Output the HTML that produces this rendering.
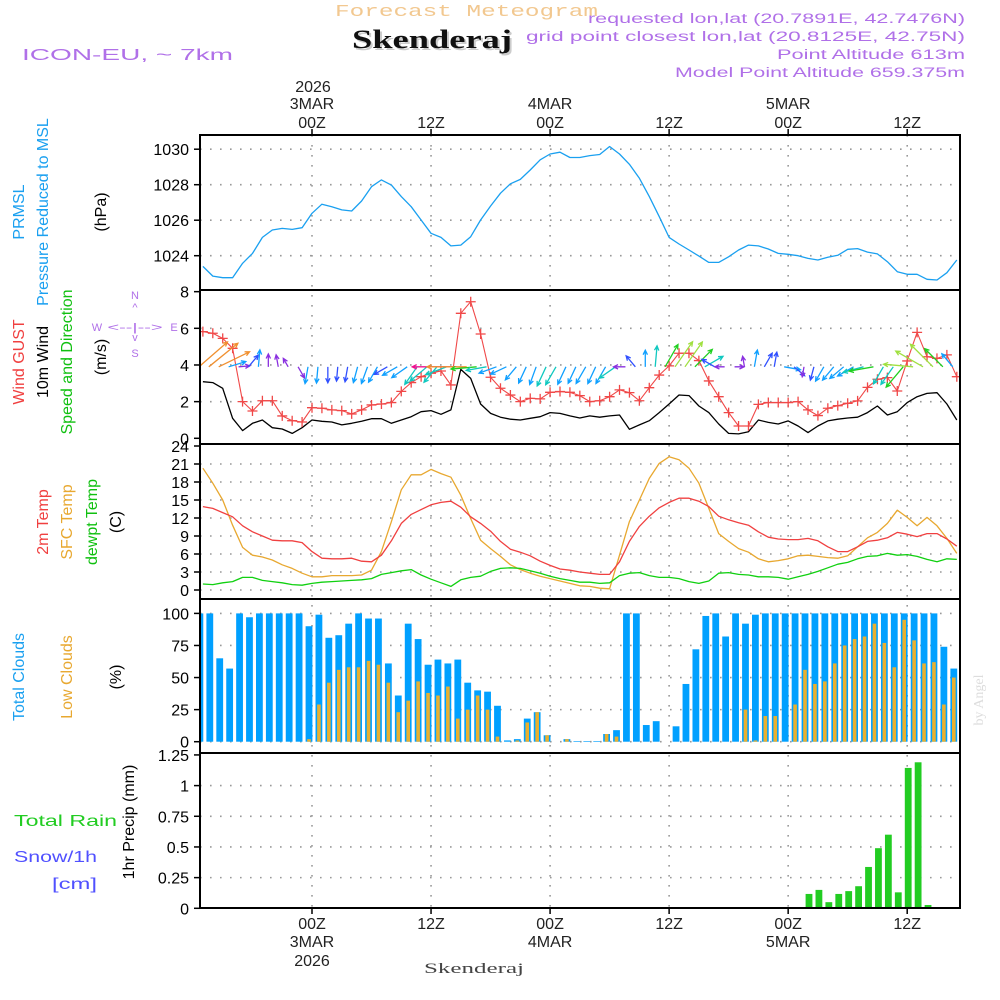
<!DOCTYPE html>
<html><head><meta charset="utf-8"><style>
body{margin:0;background:#fff;width:1000px;height:1000px;overflow:hidden}
svg{display:block}
text{font-family:"Liberation Sans",sans-serif}
</style></head><body>
<svg id="chart" width="1000" height="1000" viewBox="0 0 1000 1000" xmlns="http://www.w3.org/2000/svg">
<text x="335" y="16" font-size="17" fill="#f2c890" textLength="263" lengthAdjust="spacingAndGlyphs" style="font-family:'Liberation Mono',monospace">Forecast Meteogram</text>
<text x="354" y="50" font-size="26" font-weight="bold" fill="#ccc" textLength="160" lengthAdjust="spacingAndGlyphs" style="font-family:'Liberation Serif',serif">Skenderaj</text>
<text x="352" y="48" font-size="26" font-weight="bold" fill="#111" textLength="160" lengthAdjust="spacingAndGlyphs" style="font-family:'Liberation Serif',serif">Skenderaj</text>
<text x="22" y="60" font-size="16" fill="#b070e8" textLength="211" lengthAdjust="spacingAndGlyphs">ICON-EU, ~ 7km</text>
<g font-size="13.5" fill="#b070e8">
<text x="588" y="23" textLength="377" lengthAdjust="spacingAndGlyphs">requested lon,lat (20.7891E, 42.7476N)</text>
<text x="526" y="41" textLength="439" lengthAdjust="spacingAndGlyphs">grid point closest lon,lat (20.8125E, 42.75N)</text>
<text x="777" y="59" textLength="188" lengthAdjust="spacingAndGlyphs">Point Altitude 613m</text>
<text x="675" y="77" textLength="290" lengthAdjust="spacingAndGlyphs">Model Point Altitude 659.375m</text>
</g>
<text transform="translate(983,700) rotate(-90)" font-size="14" fill="#ddd" text-anchor="middle" style="font-family:'Liberation Serif',serif">by Angel</text>
<g id="labels"></g>
<g id="plot"></g>
</svg>
<script>
// ---------- data (hour offsets relative to 00Z 3MAR 2026) ----------
const hours = [-11,-10,-9,-8,-7,-6,-5,-4,-3,-2,-1,0,1,2,3,4,5,6,7,8,9,10,11,12,13,14,15,16,17,18,19,20,21,22,23,24,25,26,27,28,29,30,31,32,33,34,35,36,37,38,39,40,41,42,43,44,45,46,47,48,49,50,51,52,53,54,55,56,57,58,59,60,61,62,63,64,65];
const prmsl = [1023.4,1022.85,1022.76,1022.76,1023.57,1024.13,1025.03,1025.45,1025.54,1025.48,1025.58,1026.39,1026.9,1026.76,1026.58,1026.52,1027.08,1027.89,1028.27,1027.98,1027.33,1026.76,1026.01,1025.26,1025.03,1024.55,1024.6,1025.07,1026.01,1026.8,1027.52,1028.05,1028.3,1028.83,1029.4,1029.73,1029.83,1029.53,1029.53,1029.64,1029.7,1030.15,1029.73,1029.15,1028.36,1027.33,1026.2,1025.03,1024.66,1024.32,1023.98,1023.62,1023.62,1023.94,1024.32,1024.6,1024.55,1024.38,1024.13,1024.08,1024.0,1023.85,1023.76,1023.91,1024.02,1024.36,1024.4,1024.2,1024.1,1023.66,1023.1,1022.95,1022.95,1022.67,1022.63,1023.04,1023.76];
const wind10m = [3.09,3.04,2.73,1.09,0.42,0.82,1.0,0.58,0.51,0.27,0.58,1.0,0.93,0.89,0.73,0.82,0.93,1.07,1.07,0.82,1.0,1.18,1.45,1.51,1.31,1.55,3.76,3.27,1.87,1.36,1.15,1.04,1.0,1.09,1.18,1.4,1.36,1.22,1.11,1.22,1.15,1.22,1.27,0.49,0.73,0.96,1.4,1.87,2.36,2.33,1.76,1.4,0.78,0.27,0.24,0.36,1.0,0.87,0.78,0.95,0.67,0.31,0.67,0.95,1.04,1.11,1.15,1.4,1.76,1.27,1.45,1.95,2.27,2.45,2.49,1.87,1.0];
const gust = [5.82,5.73,5.45,4.91,2.0,1.49,2.05,2.05,1.22,0.96,0.89,1.67,1.64,1.55,1.51,1.33,1.55,1.82,1.87,1.95,2.56,3.04,3.36,3.55,3.67,2.91,6.82,7.45,5.69,3.33,2.73,2.36,2.0,2.18,2.15,2.51,2.55,2.51,2.33,2.0,2.05,2.27,2.64,2.49,2.05,2.76,3.45,3.95,4.64,4.64,4.24,3.13,2.27,1.4,0.67,0.67,1.85,1.95,1.95,1.95,2.0,1.55,1.24,1.64,1.78,1.91,2.04,2.78,3.22,3.31,2.58,4.22,5.78,4.45,4.36,4.55,3.36];
const windDir = [49,51,64,73,85,40,5,0,350,330,150,190,185,180,185,190,195,200,210,240,240,235,215,230,220,250,270,270,265,260,250,245,220,205,200,205,210,205,205,210,205,210,235,270,320,0,5,30,35,35,45,60,300,270,90,350,10,30,10,100,130,190,195,210,220,230,240,255,260,210,215,220,275,300,315,315,320];
const temp2m = [13.9,13.6,12.9,12.2,10.7,9.7,9.0,8.3,8.2,8.2,7.9,6.4,5.3,5.2,5.2,5.3,4.8,4.7,5.8,8.2,11.1,12.6,13.4,14.2,14.6,14.8,13.8,12.2,11.1,9.8,8.1,6.8,6.3,5.7,4.8,4.1,3.5,3.3,3.0,2.8,2.6,2.6,4.7,8.1,10.6,12.3,13.7,14.6,15.3,15.3,14.8,13.9,12.3,11.7,11.2,10.8,9.7,8.8,8.5,8.4,8.4,8.6,8.2,7.2,6.4,6.4,7.2,8.1,8.3,8.7,9.6,9.3,8.9,9.4,9.4,8.5,7.3];
const tempSfc = [20.3,17.8,15.0,10.8,7.1,5.8,5.5,5.0,4.2,3.6,2.8,2.2,2.2,2.4,2.4,2.4,2.5,3.3,6.4,11.4,16.7,19.2,19.2,20.1,19.4,18.8,15.8,11.9,8.3,6.9,5.6,4.2,3.4,2.8,2.3,1.9,1.5,1.1,0.7,0.6,0.3,0.2,5.8,11.4,15.0,18.6,21.1,22.2,21.7,20.3,17.8,13.6,9.4,8.1,6.9,6.3,5.2,4.7,4.9,5.2,5.7,5.8,5.6,5.4,5.3,5.7,7.2,8.7,9.6,11.1,13.3,12.1,10.7,12.1,10.7,8.6,6.1];
const dewpt = [1.0,0.9,1.2,1.4,2.1,2.1,1.6,1.4,1.2,0.9,0.8,1.1,1.3,1.4,1.5,1.6,1.7,1.9,2.6,2.9,3.2,3.4,2.5,1.8,1.2,0.6,1.7,2.1,2.3,3.1,3.6,3.7,3.6,3.2,2.8,2.3,1.9,1.6,1.3,1.3,1.1,1.2,2.4,2.8,2.9,2.4,2.1,2.1,1.9,1.4,1.1,1.5,2.8,2.9,2.6,2.5,2.2,2.2,2.1,1.8,2.2,2.6,3.1,3.7,4.3,4.6,5.2,5.6,5.7,6.1,5.8,5.9,5.6,5.1,4.7,5.2,5.1];
const totalClouds = [100,100,65,57,100,97,100,100,100,100,100,90,99,81,83,92,100,96,96,61,36,92,80,60,64,61,64,46,40,39,28,1,2,18,23,5,0,2,0.5,0.5,0.5,6,9,100,100,13,16,0,12,45,72,98,100,82,100,92,99,100,100,100,100,100,100,100,100,100,100,100,100,100,100,100,100,100,100,74,57];
const lowClouds = [0,0,0,0,0,0,0,0,0,0,0,2,29,46,56,58,58,63,60,46,23,32,47,38,36,43,18,25,36,25,4,0,1,15,23,5,0,2,0,0,0,6,4,0,0,0,0,0,0,0,0,0,0,0,0,25,1,20,20,0,29,56,45,47,61,75,80,82,92,77,58,95,79,61,62,29,50];
const precip = [0,0,0,0,0,0,0,0,0,0,0,0,0,0,0,0,0,0,0,0,0,0,0,0,0,0,0,0,0,0,0,0,0,0,0,0,0,0,0,0,0,0,0,0,0,0,0,0,0,0,0,0,0,0,0,0,0,0,0,0,0,0.117,0.15,0.05,0.117,0.14,0.18,0.337,0.49,0.6,0.13,1.144,1.19,0.027,0,0,0];
const pTicks = [1024,1026,1028,1030];
const wTicks = [0,2,4,6,8];
const tTicks = [0,3,6,9,12,15,18,21,24];
const cTicks = [0,25,50,75,100];
const rTicks = [0,0.25,0.5,0.75,1,1.25];
const rTickLabels = ["0","0.25","0.5","0.75","1","1.25"];
const timeTicks = [0,12,24,36,48,60];
const timeLabels = ["00Z","12Z","00Z","12Z","00Z","12Z"];
const dayLabels = ["3MAR","","4MAR","","5MAR",""];

// ---------- axes ----------
const X0=200, X1=960;
const xs = h => 312 + h*9.92;
const yP = v => 255.7 - (v-1024)*17.75;
const yW = v => 438.3 - v*18.33;
const yT = v => 590 - v*6;
const yC = v => 741.7 - v*1.283;
const yR = v => 908.3 - v*122.7;
const panels = [[135,290],[290,444],[444,599],[599,753],[753,908]];

const NS="http://www.w3.org/2000/svg";
const plot=document.getElementById('plot');
const labels=document.getElementById('labels');
function mk(tag, attrs, parent){const e=document.createElementNS(NS,tag);for(const k in attrs)e.setAttribute(k,attrs[k]);(parent||plot).appendChild(e);return e;}
function txt(s, attrs, parent){const e=mk('text',attrs,parent||labels);e.textContent=s;return e;}

const defs=mk('defs',{});
const cp=mk('clipPath',{id:'clip'},defs);
mk('rect',{x:X0,y:135,width:X1-X0,height:773},cp);

const grid=mk('g',{stroke:'#999','stroke-width':1.6,'stroke-dasharray':'1.6 8.4'});


timeTicks.forEach(h=>{mk('line',{x1:xs(h),x2:xs(h),y1:135,y2:908},grid);});
function hgrid(ticks,f){ticks.forEach(v=>{const y=f(v);mk('line',{x1:X0,x2:X1,y1:y,y2:y},grid);});}
hgrid(pTicks,yP);hgrid(wTicks.slice(1,4),yW);hgrid(tTicks.slice(0,8),yT);hgrid(cTicks,yC);hgrid(rTicks.slice(1,5),yR);

const data=mk('g',{'clip-path':'url(#clip)'});

const gc=mk('g',{},data);
hours.forEach((h,i)=>{
  const xc=xs(h)-3;
  if(totalClouds[i]>0){const r=mk('rect',{x:xc-3.4,y:yC(totalClouds[i]),width:6.8,height:yC(0)-yC(totalClouds[i]),fill:'#00a0ff'},gc);
  
  }
  if(lowClouds[i]>0){const r=mk('rect',{x:xc-1.8,y:yC(lowClouds[i]),width:3.6,height:yC(0)-yC(lowClouds[i]),fill:'#e8b030'},gc);
  
  }
});
hours.forEach((h,i)=>{
  if(precip[i]>0){const r=mk('rect',{x:xs(h)+1-3.4,y:yR(precip[i]),width:6.8,height:yR(0)-yR(precip[i]),fill:'#22cc22'},data);
  
  }
});

function line(arr,f,color,name,w){
  const pts=hours.map((h,i)=>xs(h).toFixed(1)+','+f(arr[i]).toFixed(1)).join(' ');
  const p=mk('polyline',{points:pts,fill:'none',stroke:color,'stroke-width':w||1.3,'stroke-linejoin':'round'},data);
  
  
  return p;
}
line(prmsl,yP,'#1aa0f0','prmsl-line');
line(tempSfc,yT,'#e8a830','sfc-temp-line');
line(temp2m,yT,'#f04040','temp-2m-line');
line(dewpt,yT,'#10d010','dewpt-line');
line(wind10m,yW,'#000','wind-10m-line');
line(gust,yW,'#f04848','gust-line',1.1);
hours.forEach((h,i)=>{
  const x=xs(h),y=yW(gust[i]);
  const g=mk('path',{d:`M${x-5} ${y}H${x+5}M${x} ${y-5}V${y+5}`,stroke:'#f04848','stroke-width':1.3},data);
  
  
});
function wcol(s){if(s<0.6)return '#8a30e0';if(s<0.9)return '#3050ff';if(s<1.25)return '#10a0ff';if(s<1.6)return '#10c8c0';if(s<2.2)return '#20d020';if(s<2.6)return '#a0e040';if(s<3.5)return '#f09030';return '#f01090';}
hours.forEach((h,i)=>{
  const s=wind10m[i],a=windDir[i]*Math.PI/180,L=7+s*10;
  const x0=xs(h)-4,y0=yW(3.9);
  const dx=Math.sin(a)*L,dy=-Math.cos(a)*L,x1=x0+dx,y1=y0+dy;
  const hl=5,ang=Math.atan2(dy,dx);
  const ax=x1-hl*Math.cos(ang-0.45),ay=y1-hl*Math.sin(ang-0.45),bx=x1-hl*Math.cos(ang+0.45),by=y1-hl*Math.sin(ang+0.45);
  const c=wcol(s);
  const p=mk('path',{d:`M${x0} ${y0}L${x1} ${y1}M${ax} ${ay}L${x1} ${y1}L${bx} ${by}`,stroke:c,'stroke-width':1.3,fill:'none'},data);
  
  
});

panels.forEach(([a,b])=>{const r=mk('rect',{x:X0,y:a,width:X1-X0,height:b-a,fill:'none',stroke:'#000','stroke-width':2});

});
mk('line',{x1:X0,x2:X1,y1:908,y2:908,stroke:'#000','stroke-width':2,'stroke-dasharray':'6 3'});

function yticks(ticks,f,labs,name){ticks.forEach((v,i)=>{const y=f(v);mk('line',{x1:194,x2:X0,y1:y,y2:y,stroke:'#000','stroke-width':1.5});
  const t=txt(labs?labs[i]:String(v),{x:189,y:y+6,'font-size':16,'text-anchor':'end',fill:'#000'});
  
  });}
yticks(pTicks,yP,null,'pressure-tick-label');
yticks(wTicks,yW,null,'wind-tick-label');
yticks(tTicks,yT,null,'temp-tick-label');
yticks(cTicks,yC,null,'cloud-tick-label');
yticks(rTicks,yR,rTickLabels,'precip-tick-label');

timeTicks.forEach((h,i)=>{
  const x=xs(h);
  mk('line',{x1:x,x2:x,y1:129,y2:135,stroke:'#000','stroke-width':1.5});
  mk('line',{x1:x,x2:x,y1:908,y2:914,stroke:'#000','stroke-width':1.5});
  const t1=txt(timeLabels[i],{x:x,y:128,'font-size':16,'text-anchor':'middle',fill:'#222'});
  
  
  const t2=txt(timeLabels[i],{x:x,y:929,'font-size':16,'text-anchor':'middle',fill:'#222'});
  
  
  if(dayLabels[i]){
    const d1=txt(dayLabels[i],{x:x,y:109,'font-size':16,'text-anchor':'middle',fill:'#222'});
    
    
    const d2=txt(dayLabels[i],{x:x,y:947,'font-size':16,'text-anchor':'middle',fill:'#222'});
    
    
  }
});
</script>
<script>
const L=document.getElementById('labels');
const NS2="http://www.w3.org/2000/svg";
function T(s,x,y,o){const e=document.createElementNS(NS2,'text');e.setAttribute('x',x);e.setAttribute('y',y);for(const k in o)e.setAttribute(k,o[k]);e.textContent=s;L.appendChild(e);return e;}
function R(s,x,y,color,name,size){const e=T(s,0,0,{transform:`translate(${x},${y}) rotate(-90)`,'font-size':size||16,'text-anchor':'middle',fill:color});
  
  }
let e;
e=T('2026',313,92,{'font-size':16,'text-anchor':'middle',fill:'#222'});


e=T('2026',312,966,{'font-size':16,'text-anchor':'middle',fill:'#222'});


e=T('Skenderaj',424,973,{'font-size':15,fill:'#444',textLength:100,lengthAdjust:'spacingAndGlyphs',style:"font-family:'Liberation Serif',serif"});


R('PRMSL',24,212,'#1aa0f0','prmsl-label');
R('Pressure Reduced to MSL',48,212,'#1aa0f0','pressure-label');
R('(hPa)',106,212,'#000','pressure-unit');
R('Wind GUST',24,362,'#f04040','gust-label');
R('10m Wind',48,362,'#000','wind-label');
R('Speed and Direction',72,362,'#10c010','wind-dir-label');
R('(m/s)',106,357,'#000','wind-unit');
R('2m Temp',48,522,'#f04040','temp-2m-label');
R('SFC Temp',72,522,'#e8a830','sfc-temp-label');
R('dewpt Temp',97,522,'#10c010','dewpt-label');
R('(C)',121,522,'#000','temp-unit');
R('Total Clouds',24,677,'#1aa0f0','total-clouds-label');
R('Low Clouds',72,677,'#e8a830','low-clouds-label');
R('(%)',121,677,'#000','cloud-unit');
R('1hr Precip (mm)',134,822,'#000','precip-axis-title');
e=T('Total  Rain',14,826,{'font-size':16,fill:'#22cc22',textLength:103,lengthAdjust:'spacingAndGlyphs'});


e=T('Snow/1h',14,862,{'font-size':16,fill:'#5050ff',textLength:83,lengthAdjust:'spacingAndGlyphs'});


e=T('[cm]',52,889,{'font-size':16,fill:'#5050ff',textLength:45,lengthAdjust:'spacingAndGlyphs'});


const cps=[['N',135,299,0],['^',135,311,0],['<--|-->',135,331,55],['v',135,341,0],['S',135,357,0],['W',97,331,0],['E',174,331,0]];
cps.forEach(c=>{const o={'font-size':11,'text-anchor':'middle',fill:'#b070e8'};if(c[3]){o.textLength=c[3];o.lengthAdjust='spacingAndGlyphs';}
  const t=T(c[0],c[1],c[2],o);
  
  });
</script>
</body></html>
